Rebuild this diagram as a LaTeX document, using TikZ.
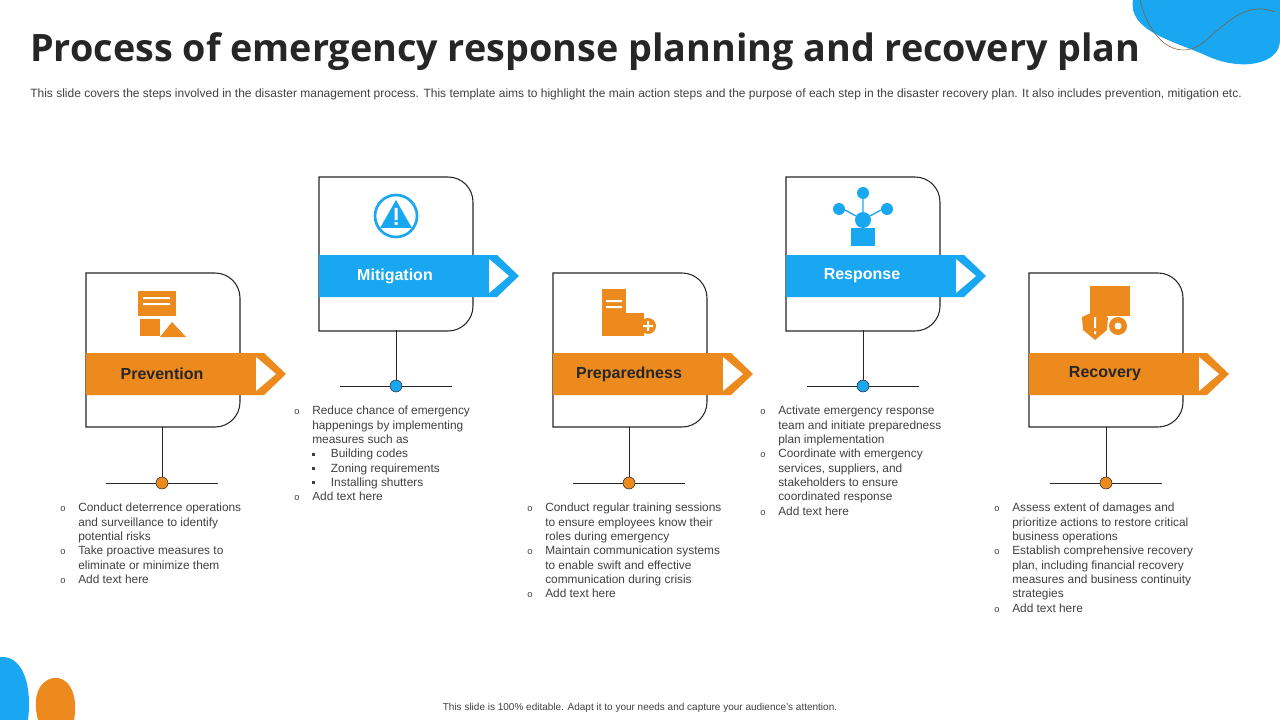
\documentclass[tikz,border=0pt]{standalone}
\usepackage{fontspec}
\setmainfont{Liberation Sans}
\newfontfamily\titlefont{Open Sans}
\usetikzlibrary{positioning}
\definecolor{orng}{HTML}{EC8A1E}
\definecolor{skyb}{HTML}{1AA7F2}
\definecolor{txtg}{HTML}{404040}
\tikzset{
  card/.style={draw=black!85, line width=0.8pt},
  bannertext/.style={font=\bfseries\fontsize{12}{14}\selectfont, text=#1},
  bullets/.style={anchor=north west, align=left, text=txtg, inner sep=0pt,
    font=\fontsize{8.9}{10.75}\selectfont},
  stem/.style={draw=black!85, line width=0.6pt},
}
\newcommand{\ob}{\makebox[13.5pt][l]{\fontsize{7}{8}\selectfont o}}
\newcommand{\sq}{\makebox[13.5pt][l]{}\makebox[14pt][l]{\rule[1.6pt]{2.2pt}{2.2pt}}}
\newcommand{\ind}{\makebox[13.5pt][l]{}}
% card: x-left, y-top, banner top, fill colour, name, label, text colour
\newcommand{\stepcard}[7]{%
  \draw[card] (#1,#2) -- (#1+129,#2) arc[start angle=270,end angle=360,radius=25]
    -- (#1+154,#2+129) arc[start angle=0,end angle=90,radius=25] -- (#1,#2+154) -- cycle;
  \fill[#4] (#1,#3) -- (#1+178,#3) -- (#1+200,#3+21) -- (#1+178,#3+42) -- (#1,#3+42) -- cycle;
  \fill[white] (#1+170,#3+4) -- (#1+190,#3+21) -- (#1+170,#3+38) -- cycle;
  \node[bannertext=#7] (#5) at (#1+76,#3+21) {#6};
}
\begin{document}
\begin{tikzpicture}[x=0.75pt,y=-0.75pt]
\useasboundingbox (0,0) rectangle (1280,720);
% decorations
\fill[skyb] (1133,0) .. controls (1128,30) and (1170,40) .. (1205,55)
  .. controls (1240,72) and (1280,65) .. (1280,40) -- (1280,0) -- cycle;
\draw[brown!70!black, line width=0.4pt] (1140,0) .. controls (1150,40) and (1175,60) .. (1200,45)
  .. controls (1225,25) and (1245,0) .. (1275,12);
\fill[skyb] (0,657) .. controls (25,655) and (32,690) .. (28,720) -- (0,720) -- cycle;
\fill[orng] (38,720) .. controls (30,690) and (45,676) .. (58,678)
  .. controls (72,680) and (78,700) .. (74,720) -- cycle;
% title
\node[anchor=west, inner sep=0pt, text=black!85] (title) at (30,52)
  {\titlefont\bfseries\fontsize{28.3}{32}\selectfont Process of emergency response planning and recovery plan};
\node[anchor=west, inner sep=0pt, text=txtg, font=\fontsize{9}{10}\selectfont] (sub) at (30,94)
  {This slide covers the steps involved in the disaster management process. This template aims to highlight the main action steps and the purpose of each step in the disaster recovery plan. It also includes prevention, mitigation etc.};
% cards
\stepcard{86}{273}{353}{orng}{prev}{Prevention}{black!85}
\stepcard{319}{177}{255}{skyb}{miti}{Mitigation}{white}
\stepcard{553}{273}{353}{orng}{prep}{Preparedness}{black!85}
\stepcard{786}{177}{255}{skyb}{resp}{Response}{white}
\stepcard{1029}{273}{353}{orng}{reco}{Recovery}{black!85}
% stems
\foreach \cx/\ty/\ly/\col/\nm in {162/427/483/orng/a, 396/330/386/skyb/b, 629/427/483/orng/c, 863/330/386/skyb/d, 1106/427/483/orng/e}{
  \coordinate (top\nm) at (\cx,\ty);
  \node[circle, draw=black!85, fill=\col, minimum size=9pt, inner sep=0pt] (dot\nm) at (\cx,\ly) {};
  \draw[stem] (top\nm) -- (dot\nm);
  \draw[stem] (\cx-56,\ly) -- (dot\nm.west) (dot\nm.east) -- (\cx+56,\ly);
}
% icons (simplified)
\begin{scope}[orng]
  \fill (138,291) rectangle (176,316); \fill[white] (143,297) rectangle (170,299) (143,303) rectangle (170,305);
  \fill (140,319) rectangle (160,336); \fill (172,322) -- (186,337) -- (160,337) -- cycle;
  \fill (602,289) rectangle (626,336); \fill[white] (606,300) rectangle (622,302) (606,306) rectangle (622,308);
  \fill (622,313) rectangle (644,336);
  \fill (648,326) circle (8); \fill[white] (643,325) rectangle (653,327) (647,321) rectangle (649,331);
  \fill (1090,286) rectangle (1130,316);
  \fill (1082,317) -- (1095,311) -- (1108,317) -- (1107,330) -- (1095,340) -- (1083,330) -- cycle;
  \fill (1118,326) circle (9); \fill[white] (1118,326) circle (3.5);
  \fill[white] (1094,317) rectangle (1096,328) (1094,331) rectangle (1096,334);
\end{scope}
\begin{scope}[skyb]
  \draw[line width=2pt] (396,216) circle (21);
  \fill (396,200) -- (412,228) -- (380,228) -- cycle;
  \fill[white] (394.5,208) rectangle (397.5,220) (394.5,222) rectangle (397.5,225);
  \fill (851,228) rectangle (875,246); \fill (863,220) circle (8);
  \fill (863,193) circle (6); \fill (839,209) circle (6); \fill (887,209) circle (6);
  \draw[line width=1pt] (863,199) -- (863,212) (845,210) -- (856,216) (881,210) -- (870,216);
\end{scope}
% bullet texts
\node[bullets] (tprev) at (60,503) {\ob Conduct deterrence operations\\ \ind and surveillance to identify\\ \ind potential risks\\ \ob Take proactive measures to\\ \ind eliminate or minimize them\\ \ob Add text here};
\node[bullets] (tmiti) at (294,406) {\ob Reduce chance of emergency\\ \ind happenings by implementing\\ \ind measures such as\\ \sq Building codes\\ \sq Zoning requirements\\ \sq Installing shutters\\ \ob Add text here};
\node[bullets] (tprep) at (527,503) {\ob Conduct regular training sessions\\ \ind to ensure employees know their\\ \ind roles during emergency\\ \ob Maintain communication systems\\ \ind to enable swift and effective\\ \ind communication during crisis\\ \ob Add text here};
\node[bullets] (tresp) at (760,406) {\ob Activate  emergency response\\ \ind team and initiate preparedness\\ \ind plan implementation\\ \ob Coordinate with emergency\\ \ind services, suppliers, and\\ \ind stakeholders to ensure\\ \ind coordinated response\\ \ob Add text here};
\node[bullets] (treco) at (994,503) {\ob Assess extent of damages and\\ \ind prioritize actions to restore critical\\ \ind business operations\\ \ob Establish comprehensive recovery\\ \ind plan, including financial recovery\\ \ind measures and business continuity\\ \ind strategies\\ \ob Add text here};
% footer
\node[text=txtg, font=\fontsize{7.5}{9}\selectfont] (foot) at (640,708)
  {This slide is 100\% editable. Adapt it to your needs and capture your audience's attention.};
\end{tikzpicture}
\end{document}
